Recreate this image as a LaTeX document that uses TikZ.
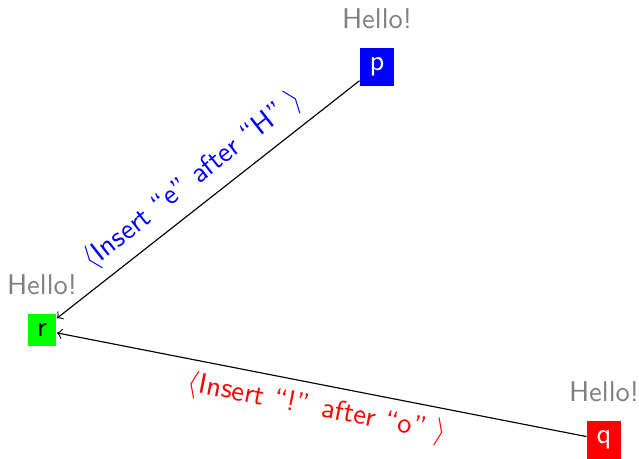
\documentclass[tikz,border=0pt]{standalone}
\renewcommand{\familydefault}{\sfdefault}
\begin{document}
\begin{tikzpicture}[x=0.35pt, y=0.35pt]
    \definecolor{greetColour}{HTML}{808080}
    \definecolor{fillColourP}{HTML}{0000FF}
    \definecolor{fillColourQ}{HTML}{FF0000}
    \definecolor{fillColourR}{HTML}{00FF00}

    \tikzset{
        peer/.style={fill=#1, label={[greetColour, label distance=3pt]above:Hello!}},
        edit/.style={sloped, #1}
    }

    % Canvas
    \useasboundingbox (0,0) rectangle (639,459);

    % Peers
    \node[peer=fillColourP, text=white] (p) at (377,392) {p};
    \node[peer=fillColourQ, text=white] (q) at (604,19) {q};
    \node[peer=fillColourR] (r) at (42,129) {r};

    % Edits sent to r
    \draw[->] (p) -- node[edit=blue, above] {$\langle$Insert ``e'' after ``H'' $\rangle$} (r);
    \draw[->] (q) -- node[edit=red, below] {$\langle$Insert ``!'' after ``o'' $\rangle$} (r);

\end{tikzpicture}
\end{document}
